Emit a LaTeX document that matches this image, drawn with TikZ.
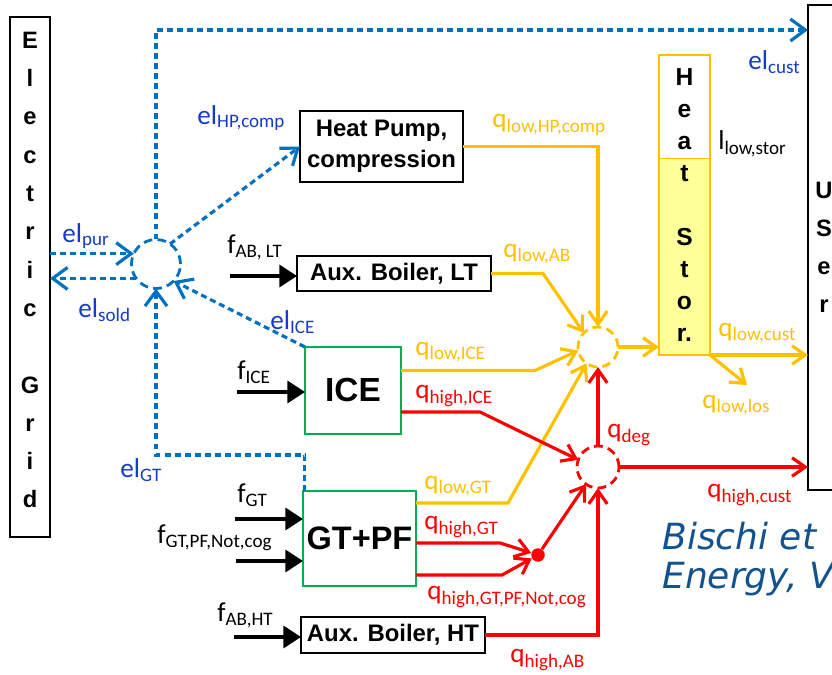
\documentclass[tikz,border=0pt]{standalone}
\usepackage{fontspec}
\setmainfont{Carlito}
\newfontfamily\boxfont{Liberation Sans}
\newfontfamily\citefont{DejaVu Sans}
\usetikzlibrary{positioning,arrows.meta,calc}

\definecolor{elblue}{RGB}{0,112,192}
\definecolor{eltext}{RGB}{20,60,200}
\definecolor{qgold}{RGB}{255,192,0}
\definecolor{qred}{RGB}{255,0,0}
\definecolor{boxgreen}{RGB}{0,176,80}
\definecolor{storfill}{RGB}{255,255,153}
\definecolor{citeblue}{RGB}{18,82,142}

\newcommand{\fl}[2]{#1\textsubscript{#2}}

\begin{document}
\begin{tikzpicture}[x=0.02cm, y=-0.02cm,
  unitbox/.style={draw=black, line width=1.2pt, inner sep=0pt, outer sep=0pt, align=center,
    font=\boxfont\bfseries\fontsize{13.6}{17.6}\selectfont},
  hub/.style={circle, inner sep=0pt, outer sep=0pt, line width=1.6pt, dash pattern=on 5pt off 3pt},
  elflow/.style={elblue, line width=1.8pt, dash pattern=on 3.4pt off 2.3pt, -{Straight Barb[length=8.5pt,width=12.5pt]}},
  qlow/.style={qgold, line width=1.8pt, -{Straight Barb[length=7.5pt,width=10.5pt]}},
  qhigh/.style={qred, line width=1.8pt, -{Straight Barb[length=7.5pt,width=10.5pt]}},
  fuel/.style={black, line width=1.9pt, -{Triangle[length=10pt,width=12.5pt]}},
  lab/.style={inner sep=0pt, anchor=west, font=\fontsize{15.5}{18}\selectfont},
  ellab/.style={lab, text=eltext},
  qllab/.style={lab, text=qgold},
  qhlab/.style={lab, text=qred}]
\def\u{0.02cm}
\useasboundingbox (0,0) rectangle (832,675);
\clip (0,0) rectangle (832,675);
% grid, user and storage columns
\node[unitbox, minimum width=40*\u, minimum height=520*\u, font=\boxfont\bfseries\fontsize{13.5}{21.8}\selectfont] (grid) at (30,277) {E\\l\\e\\c\\t\\r\\i\\c\\[21.8pt]G\\r\\i\\d\\[-13.8pt]};
\node[unitbox, minimum width=32*\u, minimum height=485*\u, font=\boxfont\bfseries\fontsize{13.5}{21.7}\selectfont] (user) at (824,247.5) {U\\S\\e\\r};
\fill[storfill] (659,158) rectangle (710,355);
\draw[qgold, line width=0.5pt] (659,158) -- (710,158);
\node[unitbox, draw=qgold, minimum width=51*\u, minimum height=300*\u, font=\boxfont\bfseries\fontsize{14}{18.2}\selectfont] (stor) at (684.5,205) {H\\e\\a\\t\\[18.2pt]S\\t\\o\\r.};
% conversion units
\node[unitbox, minimum width=163*\u, minimum height=71*\u] (hp) at (381.5,146.5) {Heat Pump,\\compression};
\node[unitbox, minimum width=194*\u, minimum height=35*\u] (ablt) at (394,273.5) {Aux. Boiler, LT};
\node[unitbox, draw=boxgreen, minimum width=96*\u, minimum height=87*\u, font=\boxfont\bfseries\fontsize{19}{22}\selectfont] (ice) at (353,390.5) {ICE};
\node[unitbox, draw=boxgreen, minimum width=113*\u, minimum height=95*\u, font=\boxfont\bfseries\fontsize{18.5}{22}\selectfont] (gtpf) at (359.5,538.5) {GT+PF};
\node[unitbox, minimum width=184*\u, minimum height=36*\u] (abht) at (393,635) {Aux. Boiler, HT};
% balance nodes
\node[hub, draw=elblue, minimum size=49*\u] (elhub) at (156,264) {};
\node[hub, draw=qgold, minimum size=40*\u] (ylhub) at (598,347) {};
\node[hub, draw=qred, minimum size=42*\u] (rdhub) at (598,467) {};
\node[circle, fill=qred, inner sep=0pt, minimum size=13.5*\u] (joint) at (538,555) {};
% fuel inputs
\coordinate (fablt) at (230,276);
\coordinate (fice) at (237,392);
\coordinate (fgt) at (235,519);
\coordinate (fcog) at (236,561);
\coordinate (fabht) at (234,637);
\draw[fuel] (fablt) -- (fablt -| ablt.west);
\draw[fuel] (fice) -- (fice -| ice.west);
\draw[fuel] (fgt) -- (fgt -| gtpf.west);
\draw[fuel] (fcog) -- (fcog -| gtpf.west);
\draw[fuel] (fabht) -- (fabht -| abht.west);
% electricity
\coordinate (eltop) at (156,30);
\draw[elflow] (elhub.north) |- (eltop -| user.west);
\draw[elflow] (grid.east |- elhub.155) -- (elhub.155);
\draw[elflow] (elhub.216) -- (grid.east |- elhub.216);
\draw[elflow] (elhub.55) -- (hp.west);
\draw[elflow] (ice.north west) -- (elhub.-44);
\draw[elflow] ([xshift=1pt]gtpf.north west) -- ++(0,-36) -| (elhub.south);
% low temperature heat
\draw[qlow] (hp.east) -| (ylhub.north);
\draw[qlow] (ablt.east) -- ++(52,0) -- (ylhub.135);
\draw[qlow] ($(ice.east)+(0,-20)$) -- ++(134,0) -- (ylhub.190);
\draw[qlow] ($(gtpf.east)+(0,-35.5)$) -- ++(92,0) -- (ylhub.235);
\draw[qlow] (ylhub.east) -- (ylhub.east -| stor.west);
\draw[qlow] (stor.south east) -- (stor.south east -| user.west);
\coordinate (los) at (747,385);
\draw[qlow] (stor.south east) -- (los);
% high temperature heat
\draw[qhigh] ($(ice.east)+(0,21.5)$) -- ++(79,0) -- (rdhub.160);
\draw[qhigh] ($(gtpf.east)+(0,4.5)$) -- ++(84,0) -- (joint);
\draw[qhigh] ($(gtpf.east)+(0,36.5)$) -- ++(86,0) -- (joint);
\draw[qhigh] (joint) -- (rdhub.235);
\draw[qhigh] (abht.east) -| (rdhub.south);
\draw[qhigh] (rdhub.north) -- (ylhub.south);
\draw[qhigh] (rdhub.east) -- (rdhub.east -| user.west);
% labels
\node[ellab] (lelhp) at (197,118) {\fl{el}{HP,comp}};
\node[ellab] (lelpur) at (62,236) {\fl{el}{pur}};
\node[ellab] (lelsold) at (78,310) {\fl{el}{sold}};
\node[ellab] (lelice) at (270,322) {\fl{el}{ICE}};
\node[ellab] (lelgt) at (120,470) {\fl{el}{GT}};
\node[ellab] (lelcust) at (748,62) {\fl{el}{cust}};
\node[qllab] (lqhp) at (492,125) {\fl{q}{low,HP,comp}};
\node[lab] (llstor) at (718,144) {\fl{l}{low,stor}};
\node[qllab] (lqab) at (503,254) {\fl{q}{low,AB}};
\node[qllab] (lqice) at (415,352) {\fl{q}{low,ICE}};
\node[qhlab] (lqhice) at (415,396) {\fl{q}{high,ICE}};
\node[qhlab] (lqdeg) at (607,435) {\fl{q}{deg}};
\node[qllab] (lqcust) at (718,333) {\fl{q}{low,cust}};
\node[qllab] (lqlos) at (702,405) {\fl{q}{low,los}};
\node[qhlab] (lqhcust) at (707,495) {\fl{q}{high,cust}};
\node[qllab] (lqgt) at (424,486) {\fl{q}{low,GT}};
\node[qhlab] (lqhgt) at (424,527) {\fl{q}{high,GT}};
\node[qhlab] (lqhcog) at (427,597) {\fl{q}{high,GT,PF,Not,cog}};
\node[qhlab] (lqhab) at (510,660) {\fl{q}{high,AB}};
\node[lab] (lfablt) at (227,247) {\fl{f}{AB, LT}};
\node[lab] (lfice) at (237,372) {\fl{f}{ICE}};
\node[lab] (lfgt) at (237,495) {\fl{f}{GT}};
\node[lab] (lfcog) at (157,538) {\fl{f}{GT,PF,Not,cog}};
\node[lab] (lfabht) at (217,615) {\fl{f}{AB,HT}};
% reference
\node[anchor=base west, inner sep=0pt, align=left, text=citeblue, font=\citefont\itshape\fontsize{20.5}{22}\selectfont] (cite) at (662,588) {Bischi et\\Energy, V};
\end{tikzpicture}
\end{document}
